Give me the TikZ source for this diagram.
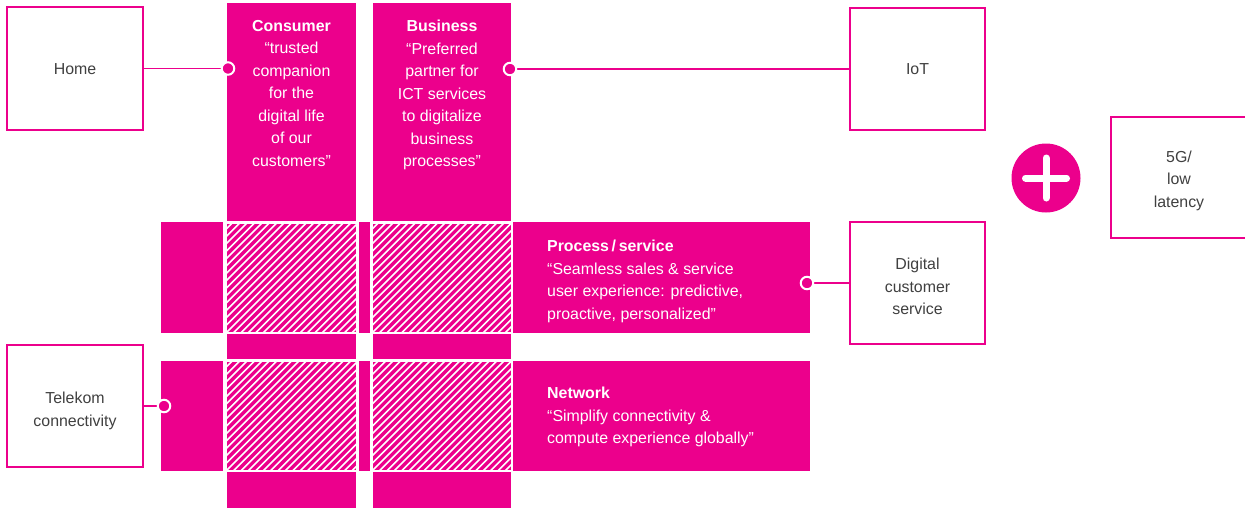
\documentclass[tikz,border=0pt]{standalone}
\usepackage{fontspec}
\setmainfont{Liberation Sans}
\definecolor{tmag}{HTML}{EC008C}
\definecolor{tgray}{HTML}{404040}
\begin{document}
\begin{tikzpicture}[x=1pt,y=-1pt,
  band/.style={fill=tmag, draw=none, inner sep=0pt, outer sep=0pt, rectangle},
  obox/.style={draw=tmag, line width=2.5pt, fill=white, inner sep=0pt},
  btext/.style={text=tgray, inner sep=0pt, align=center, font=\fontsize{15.9}{22.5}\selectfont},
  wtext/.style={text=white, inner sep=0pt, font=\fontsize{15.9}{22.5}\selectfont},
  dot/.style={circle, fill=tmag, draw=white, line width=2pt, minimum size=12.5pt, inner sep=0pt},
  link/.style={draw=tmag, line width=1.5pt},
  hatch/.style={draw=white, line width=1.6pt}
]
\useasboundingbox (0,0) rectangle (1245,520);

% column tops
\node[band, minimum width=129pt, minimum height=218pt] (consumer) at (291.5,112) {};
\node[band, minimum width=138pt, minimum height=218pt] (business) at (442,112) {};
% rows
\node[band, minimum width=62pt, minimum height=111pt] (r1left) at (192,277.5) {};
\node[band, minimum width=62pt, minimum height=110pt] (r2left) at (192,416) {};
\node[band, minimum width=297pt, minimum height=111pt] (process) at (661.5,277.5) {};
\node[band, minimum width=297pt, minimum height=110pt] (network) at (661.5,416) {};
% small gap pieces
\fill[tmag] (359,222) rectangle (370,333);
\fill[tmag] (359,361) rectangle (370,471);
% column middle and bottom pieces
\fill[tmag] (227,333.5) rectangle (356,359);
\fill[tmag] (373,333.5) rectangle (511,359);
\fill[tmag] (227,471.5) rectangle (356,508);
\fill[tmag] (373,471.5) rectangle (511,508);

% hatched intersections
\foreach \xa/\ya/\xb/\yb in {227/224/356/331.5, 373/224/511/331.5, 227/362/356/469.5, 373/362/511/469.5} {
  \begin{scope}
    \clip (\xa,\ya) rectangle (\xb,\yb);
    \fill[tmag] (\xa,\ya) rectangle (\xb,\yb);
    \foreach \t in {0,7.4,...,270} \draw[hatch] (\xa-120+\t,\yb+2) -- ++(135,-135);
  \end{scope}
}

% texts in magenta blocks
\node[wtext, anchor=north, align=center] (consumertext) at (291.5,20)
  {\textbf{Consumer}\\“trusted\\companion\\for the\\digital life\\of our\\customers”};
\node[wtext, anchor=north, align=center] (businesstext) at (442,20)
  {\textbf{Business}\\“Preferred\\partner for\\ICT services\\to digitalize\\business\\processes”};
\node[wtext, anchor=north west, align=left] (processtext) at (547,240)
  {\textbf{Process\,/\,service}\\“Seamless sales \& service\\user experience: predictive,\\proactive, personalized”};
\node[wtext, anchor=north west, align=left] (networktext) at (547,387)
  {\textbf{Network}\\“Simplify connectivity \&\\compute experience globally”};

% outlined boxes
\node[obox, minimum width=136pt, minimum height=123pt] (home) at (75,68.5) {};
\node[obox, minimum width=135pt, minimum height=122pt] (iot) at (917.5,69) {};
\node[obox, minimum width=135pt, minimum height=122pt] (digital) at (917.5,283) {};
\node[obox, minimum width=136pt, minimum height=122pt] (telekom) at (75,406) {};
\node[obox, minimum width=136pt, minimum height=121pt] (fiveg) at (1179,177.5) {};
\node[btext] (homelabel) at ([yshift=-1pt]home.center) {Home};
\node[btext] (iotlabel) at (iot.center) {IoT};
\node[btext] (digitallabel) at ([yshift=-3.5pt]digital.center) {Digital\\customer\\service};
\node[btext] (telekomlabel) at ([yshift=-5pt]telekom.center) {Telekom\\connectivity};
\node[btext] (fiveglabel) at ([yshift=-3pt]fiveg.center) {5G/\\low\\latency};

% plus sign
\node[circle, fill=tmag, minimum size=69pt, inner sep=0pt] (plus) at (1046,178) {};
\draw[white, line width=7pt, line cap=round] ([xshift=-20.5pt]plus.center) -- ([xshift=20.5pt]plus.center);
\draw[white, line width=7pt, line cap=round] ([yshift=-20pt]plus.center) -- ([yshift=20pt]plus.center);

% connectors
\coordinate (c1) at (consumer.west |- home.east);
\coordinate (c2) at (business.east |- iot.west);
\coordinate (c3) at ([xshift=-3pt]process.east |- digital.west);
\coordinate (c4) at ([xshift=3pt]r2left.west |- telekom.east);
\draw[link] (home.east) -- (c1);
\draw[link] (iot.west) -- (c2);
\draw[link] (digital.west) -- (c3);
\draw[link] (telekom.east) -- (c4);
\node[dot] (d1) at ([xshift=1pt]c1) {};
\node[dot] (d2) at ([xshift=-1pt]c2) {};
\node[dot] (d3) at (c3) {};
\node[dot] (d4) at (c4) {};
\end{tikzpicture}
\end{document}
